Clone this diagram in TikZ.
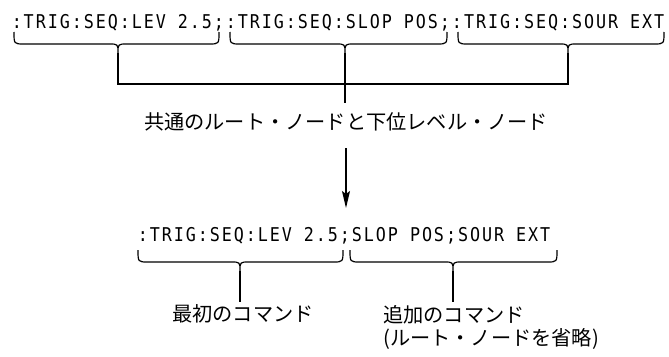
\documentclass[tikz,border=0pt]{standalone}
\usepackage{fontspec}
\usetikzlibrary{arrows.meta}
\newfontfamily\monofnt{DejaVu Sans Mono}[FakeStretch=0.88,LetterSpace=10.2]
\newfontfamily\jpfnt{Noto Sans CJK JP}
\newcommand\hbr[6]{%
  \draw[bracestyle] (#1,#4) .. controls (#1,#5) and (#1,#5) .. (#1+10,#5)
    -- (#3-9,#5) .. controls (#3,#5) and (#3,#5) .. (#3,#6)
    .. controls (#3,#5) and (#3,#5) .. (#3+9,#5)
    -- (#2-10,#5) .. controls (#2,#5) and (#2,#5) .. (#2,#4);}
\tikzset{
  cmdtext/.style={font=\monofnt\fontsize{19}{22}\selectfont, inner sep=0pt, anchor=base},
  jplabel/.style={font=\jpfnt\fontsize{20.2}{23}\selectfont, inner sep=0pt},
  bracestyle/.style={line width=1.2pt, line join=round},
  conn/.style={line width=1.2pt},
  arr/.style={line width=1.2pt, -{Stealth[length=17pt,width=8pt,inset=3pt]}}
}
\begin{document}
\begin{tikzpicture}[x=1pt,y=-1pt]
\useasboundingbox (0,0) rectangle (669,356);
% top command line
\node[cmdtext] (top) at (338,28) {:TRIG:SEQ:LEV 2.5;:TRIG:SEQ:SLOP POS;:TRIG:SEQ:SOUR EXT};
\hbr{14}{219}{118}{32}{44}{53}
\hbr{230}{447}{345}{32}{44}{53}
\hbr{458}{664}{568}{32}{44}{53}
\coordinate (t1) at (118,53);
\coordinate (t2) at (345,53);
\coordinate (t3) at (568,53);
\coordinate (c1) at (118,84);
\coordinate (c3) at (568,84);
\coordinate (m) at (345,103);
\draw[conn] (t1) -- (c1) -- (c3) -- (t3);
\draw[conn] (t2) -- (m);
% label
\node[jplabel, anchor=base] (common) at (346,129.6) {共通のルート・ノードと下位レベル・ノード};
\coordinate (a1) at (346,148);
\coordinate (a2) at (346,208);
\draw[arr] (a1) -- (a2);
% bottom command line
\node[cmdtext] (bot) at (344,241.5) {:TRIG:SEQ:LEV 2.5;SLOP POS;SOUR EXT};
\hbr{138}{343}{240}{250}{262}{271}
\hbr{350}{557}{453}{250}{262}{271}
\coordinate (b1) at (240,271);
\coordinate (b2) at (453,271);
\coordinate (e1) at (240,302);
\coordinate (e2) at (453,302);
\draw[conn] (b1) -- (e1);
\draw[conn] (b2) -- (e2);
\node[jplabel, anchor=base] (first) at (243,321.5) {最初のコマンド};
\node[jplabel, anchor=north west, align=left] (added) at (383,305) {追加のコマンド\\(ルート・ノードを省略)};
\end{tikzpicture}
\end{document}
